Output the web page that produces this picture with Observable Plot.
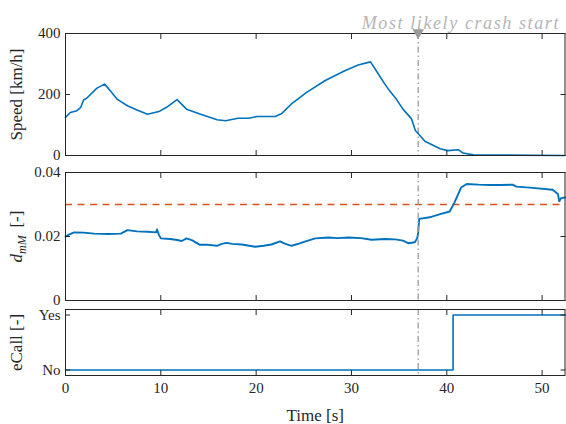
<!DOCTYPE html>
<html><head><meta charset="utf-8">
<script src="https://cdn.jsdelivr.net/npm/d3@7"></script>
<script src="https://cdn.jsdelivr.net/npm/@observablehq/plot@0.6"></script>
<style>
body{margin:0;background:#fff}
#c{width:566px;height:424px;position:relative;overflow:hidden}
#c svg{display:block}
#c svg, #c svg text{font-family:"Liberation Serif","DejaVu Serif",serif !important}
</style>
</head><body><div id="c"></div>
<script>
// ---- data ----
const speedTime  = [0, 0.5, 1.2, 1.6, 1.9, 2.3, 3.3, 4.1, 4.7, 5.4, 6.5, 7.5, 8.6, 9.8, 10.6, 11.7, 12.7, 14.1, 15.9, 16.8, 17.3, 18.1, 19.2, 20.1, 22.0, 22.7, 23.7, 25.3, 27.2, 29.3, 30.7, 32.0, 32.6, 33.5, 34.0, 34.7, 35.4, 36.3, 36.7, 37.2, 37.7, 39.3, 40.1, 41.2, 41.7, 42.8, 52.4];
const speedValue = [125, 141, 147, 158, 182, 190, 221, 234, 212, 185, 163, 149, 135, 144, 158, 183, 152, 136, 117, 114, 117, 122, 122, 128, 128, 138, 169, 207, 245, 278, 297, 307, 278, 234, 212, 185, 152, 120, 82, 65, 47, 22, 16, 19, 8, 2, 0];

const dmmTime  = [0, 0.3, 0.9, 1.9, 3.0, 4.5, 5.8, 6.5, 7.5, 8.6, 9.5, 9.6, 9.8, 10.0, 11.0, 11.7, 12.2, 12.7, 13.3, 14.1, 15.0, 15.9, 16.4, 16.9, 17.5, 18.5, 19.9, 20.8, 21.6, 22.5, 23.0, 23.7, 24.5, 25.1, 26.2, 27.6, 28.5, 29.7, 31.0, 32.1, 33.5, 34.6, 35.4, 35.95, 36.65, 36.9, 37.0, 37.1, 38.2, 39.3, 40.3, 40.8, 41.5, 42.1, 43.3, 44.5, 45.7, 46.9, 47.3, 49.0, 51.1, 51.65, 51.8, 52.0, 52.4];
const dmmValue = [0.0200, 0.0205, 0.0213, 0.0212, 0.0209, 0.0208, 0.0209, 0.0220, 0.0216, 0.0215, 0.0213, 0.0222, 0.0205, 0.0194, 0.0192, 0.0189, 0.0186, 0.0194, 0.0188, 0.0174, 0.0174, 0.0171, 0.0177, 0.0180, 0.0177, 0.0175, 0.0168, 0.0171, 0.0175, 0.0185, 0.0178, 0.0171, 0.0178, 0.0184, 0.0194, 0.0197, 0.0195, 0.0197, 0.0195, 0.0190, 0.0192, 0.0191, 0.0187, 0.0179, 0.0182, 0.0195, 0.0212, 0.0255, 0.0260, 0.0270, 0.0278, 0.0306, 0.0353, 0.0364, 0.0362, 0.0361, 0.0361, 0.0362, 0.0356, 0.0352, 0.0346, 0.0333, 0.0310, 0.0320, 0.0322];
const dmmThreshold = 0.03;

const ecallTime  = [0, 40.66, 52.4];
const ecallValue = [0, 1, 1];
const ecallTickLabels = ["No", "Yes"];

const crashTime  = 37.0;
const crashLabel = "Most likely crash start";

const xDomain    = [0, 52.4];
const xTicks     = [0, 10, 20, 30, 40, 50];
const speedTicks = [0, 200, 400];
const dmmTicks   = [0, 0.02, 0.04];
const ecallTicks = [0, 1];

const xLabel     = "Time [s]";
const speedLabel = "Speed [km/h]";
const dmmLabel   = "dmM [-]";
const ecallLabel = "eCall [-]";

// ---- styling ----
const BLUE = "#0072BD", ORANGE = "#D95319", GREY = "#9a9a9a", INK = "#262626";
const FONT = "Liberation Serif";
const W = 566;

const speedData = speedTime.map((t, i) => ({t, v: speedValue[i]}));
const dmmData   = dmmTime.map((t, i) => ({t, v: dmmValue[i]}));
const ecallData = ecallTime.map((t, i) => ({t, v: ecallValue[i]}));

function axes(yTicks, yFormat, yLabel, showX) {
  return [
    Plot.axisX({anchor: "bottom", ticks: xTicks, tickSize: -5, tickPadding: 12,
      tickFormat: showX ? (d => String(d)) : (() => ""),
      label: showX ? xLabel : null, labelAnchor: "center", labelOffset: 45, labelArrow: "none"}),
    Plot.axisX({anchor: "top", ticks: xTicks, tickSize: -5, tickFormat: () => "", label: null}),
    Plot.axisY({anchor: "left", ticks: yTicks, tickSize: -5, tickPadding: 10, tickFormat: yFormat,
      label: yLabel, labelAnchor: "center", labelOffset: 56, labelArrow: "none"}),
    Plot.axisY({anchor: "right", ticks: yTicks, tickSize: -5, tickFormat: () => "", label: null}),
    Plot.frame({stroke: INK, strokeWidth: 1})
  ];
}
const crashRule = () => Plot.ruleX([crashTime], {x: d => d, stroke: GREY, strokeWidth: 1.3, strokeDasharray: "6,3,1.5,3"});
const style = {fontFamily: FONT, fontSize: "15px", color: INK, background: "transparent", overflow: "visible"};

const p1 = Plot.plot({
  width: W, height: 163, marginLeft: 65, marginRight: 1.5, marginTop: 33, marginBottom: 8,
  style,
  x: {domain: xDomain},
  y: {domain: [0, 400]},
  marks: [
    crashRule(),
    Plot.line(speedData, {x: "t", y: "v", stroke: BLUE, strokeWidth: 1.6}),
    ...axes(speedTicks, d => String(d), speedLabel, false),
    Plot.dot([crashTime], {x: d => d, y: () => 400, symbol: "triangle", rotate: 180, r: 4.3, fill: GREY, stroke: "none", dy: -1}),
    Plot.text([crashLabel], {text: d => d, frameAnchor: "top-right", textAnchor: "end", dx: -5, dy: -17,
      fill: "#b5b5b5", fontStyle: "italic", fontSize: 18})
  ]
});

const p2 = Plot.plot({
  width: W, height: 141, marginLeft: 65, marginRight: 1.5, marginTop: 9, marginBottom: 4,
  style,
  x: {domain: xDomain},
  y: {domain: [0, 0.04]},
  marks: [
    Plot.ruleY([dmmThreshold], {y: d => d, stroke: ORANGE, strokeWidth: 1.5, strokeDasharray: "7,5.5"}),
    Plot.line(dmmData, {x: "t", y: "v", stroke: BLUE, strokeWidth: 1.9}),
    crashRule(),
    ...axes(dmmTicks, d => (d === 0 ? "0" : d3.format(".2f")(d)), dmmLabel, false)
  ]
});

const p3 = Plot.plot({
  width: W, height: 120, marginLeft: 65, marginRight: 1.5, marginTop: 5, marginBottom: 49,
  style,
  x: {domain: xDomain},
  y: {domain: [-0.1, 1.1]},
  marks: [
    crashRule(),
    Plot.line(ecallData, {x: "t", y: "v", stroke: BLUE, strokeWidth: 1.6, curve: "step-after"}),
    ...axes(ecallTicks, d => ecallTickLabels[d], ecallLabel, true)
  ]
});

const c = document.getElementById("c");
c.append(p1, p2, p3);

// strip any label arrows left by older Plot versions; enlarge axis titles
d3.select(c).selectAll('g[aria-label$="axis label"]').attr("font-size", "17px");
d3.select(c).selectAll('g[aria-label$="axis label"] text').each(function () {
  const t = this.textContent.replace(/\s*[\u2190-\u2193]\s*/g, "");
  if (t !== this.textContent) this.textContent = t;
});

// title letter spacing
d3.select(p1).selectAll('g[aria-label="text"] text').attr("letter-spacing", "1.6px");

// subscripted d_mM label
const lab = d3.select(p2).select('g[aria-label="y-axis label"] text');
if (!lab.empty()) {
  lab.text(null);
  lab.append("tspan").attr("font-style", "italic").text("d");
  lab.append("tspan").attr("font-style", "italic").attr("font-size", "12px").attr("dy", "4").text("mM");
  lab.append("tspan").attr("dy", "-4").text("\u2009 [-]");
}
</script>
</body></html>
